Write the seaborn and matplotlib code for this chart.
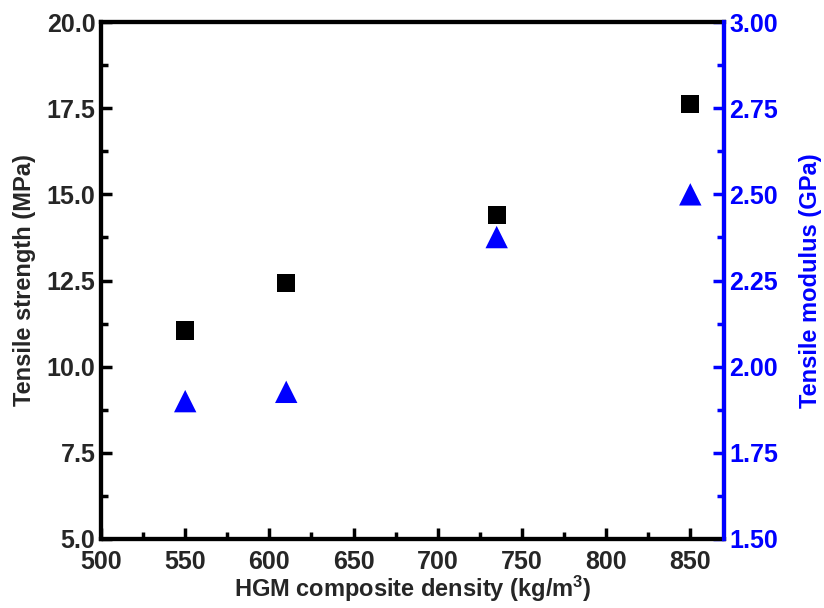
import numpy as np
import matplotlib
matplotlib.use('Agg')
import matplotlib.pyplot as plt
import seaborn as sns
import pandas as pd
from matplotlib.ticker import MultipleLocator, FormatStrFormatter

# values
density = [550, 610, 735, 850]
strength = [11.05, 12.43, 14.40, 17.62]
modulus = [1.90, 1.927, 2.376, 2.50]

sns.set_style('ticks')
plt.rcParams['font.family'] = ['Liberation Sans', 'DejaVu Sans']
plt.rcParams['font.weight'] = 'bold'
plt.rcParams['axes.labelweight'] = 'bold'
plt.rcParams['mathtext.fontset'] = 'custom'
plt.rcParams['mathtext.bf'] = 'Liberation Sans:bold'
plt.rcParams['mathtext.rm'] = 'Liberation Sans:bold'
plt.rcParams['mathtext.default'] = 'bf'

df = pd.DataFrame({'density': density, 'strength': strength, 'modulus': modulus})

fig = plt.figure(figsize=(8.24, 6.08), dpi=100)
ax = fig.add_axes([0.1226, 0.1135, 0.756, 0.8503])
ax2 = ax.twinx()

sns.scatterplot(data=df, x='density', y='strength', ax=ax, marker='s',
                color='black', s=170, edgecolor='none')
sns.scatterplot(data=df, x='density', y='modulus', ax=ax2, marker='^',
                color='blue', s=260, edgecolor='none')

ax.set_xlim(500, 870)
ax.set_ylim(5.0, 20.0)
ax2.set_ylim(1.5, 3.0)

ax.xaxis.set_major_locator(MultipleLocator(50))
ax.xaxis.set_minor_locator(MultipleLocator(25))
ax.yaxis.set_major_locator(MultipleLocator(2.5))
ax.yaxis.set_minor_locator(MultipleLocator(1.25))
ax2.yaxis.set_major_locator(MultipleLocator(0.25))
ax2.yaxis.set_minor_locator(MultipleLocator(0.125))
ax.yaxis.set_major_formatter(FormatStrFormatter('%.1f'))
ax2.yaxis.set_major_formatter(FormatStrFormatter('%.2f'))

tfs = 18
lfs = 17
ax.set_xlabel('HGM composite density (kg/m$^3$)', fontsize=lfs, fontweight='bold')
ax.set_ylabel('Tensile strength (MPa)', fontsize=lfs, fontweight='bold')
ax2.set_ylabel('Tensile modulus (GPa)', fontsize=lfs, fontweight='bold', color='blue')
ax.xaxis.set_label_coords(0.5, -0.068)
ax.yaxis.set_label_coords(-0.105, 0.5)
ax2.yaxis.set_label_coords(1.12, 0.5)

for a in (ax, ax2):
    for sp in a.spines.values():
        sp.set_linewidth(3)
        sp.set_color('black')
ax2.spines['right'].set_color('blue')
ax2.spines['right'].set_zorder(5)

ax.tick_params(axis='both', which='major', direction='in', length=8, width=2.5,
               labelsize=tfs, color='black', pad=4)
ax.tick_params(axis='x', which='major', pad=8)
ax.tick_params(axis='both', which='minor', direction='in', length=5, width=2.5, color='black')
ax.tick_params(top=False, which='both')
ax2.tick_params(axis='y', which='major', direction='in', length=8, width=2.5,
                labelsize=tfs, colors='blue', pad=4)
ax2.tick_params(axis='y', which='minor', direction='in', length=5, width=2.5, colors='blue')

for lab in ax.get_xticklabels() + ax.get_yticklabels() + ax2.get_yticklabels():
    lab.set_fontweight('bold')

fig.savefig('out.png', dpi=100)
